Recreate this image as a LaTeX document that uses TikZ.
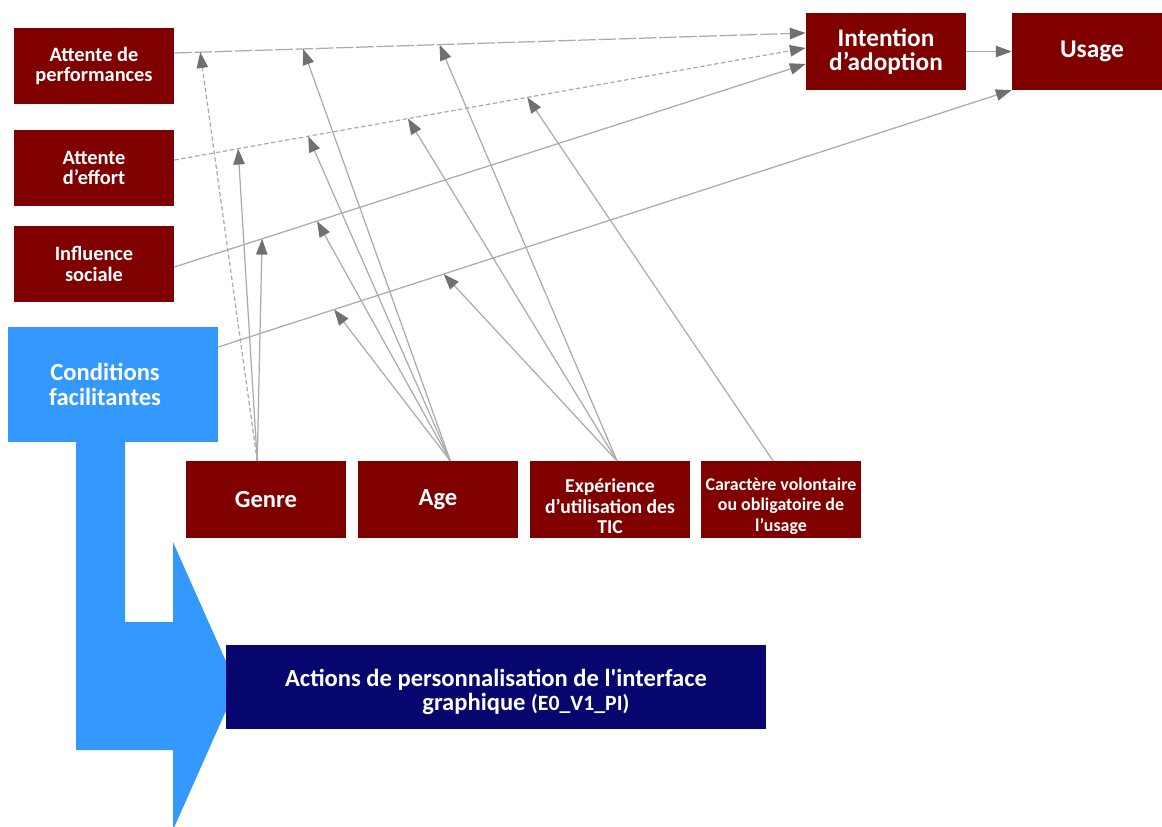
\documentclass[tikz,border=0pt]{standalone}
\usepackage{fontspec}
\setmainfont{Carlito}[Ligatures=TeXOff]
\usetikzlibrary{arrows.meta,calc}
\definecolor{boxred}{HTML}{800000}
\definecolor{condblue}{HTML}{3399FF}
\definecolor{actnavy}{HTML}{06066E}
\definecolor{linkgray}{HTML}{ABABAB}
\definecolor{tipgray}{HTML}{707070}

\begin{document}
\begin{tikzpicture}[x=0.02cm,y=-0.02cm,
  redbox/.style={fill=boxred,text=white,align=center,inner sep=1pt,
    minimum width=3.2cm,minimum height=1.53cm},
  link/.style={draw=linkgray,line width=0.7pt,
    -{Triangle[length=9pt,width=6.5pt,color=tipgray]}},
  longdash/.style={dash pattern=on 10pt off 1.5pt},
  shortdash/.style={dash pattern=on 2.5pt off 1.5pt}]
\useasboundingbox (0,0) rectangle (1162,826);

% blue arrow first, the navy box covers its tip
\fill[condblue] (76,442) -- (125,442) -- (125,622) -- (173,622) -- (173,542)
  -- (237,686) -- (173,830) -- (173,750) -- (76,750) -- cycle;

\node[redbox,font=\bfseries\fontsize{11.6}{11.5}\selectfont] (perf) at (94,66) {Attente de\\performances};
\node[redbox,font=\bfseries\fontsize{11.6}{11.5}\selectfont] (effort) at (94,168) {Attente\\d’effort};
\node[redbox,font=\bfseries\fontsize{11.6}{11.5}\selectfont] (social) at (94,264) {Influence\\sociale};
\node[redbox,fill=condblue,minimum width=4.2cm,minimum height=2.3cm,
  font=\bfseries\fontsize{14}{14}\selectfont] (cond) at (113,384.5)
  {\hspace*{-9pt}Conditions\\\hspace*{-9pt}facilitantes};
\node[redbox,font=\bfseries\fontsize{14.4}{13.6}\selectfont] (intent) at (886,51.5) {Intention\\d’adoption};
\node[redbox,font=\bfseries\fontsize{14.5}{14}\selectfont] (usage) at (1092,51.5) {Usage};
\node[redbox,font=\bfseries\fontsize{14}{14}\selectfont] (genre) at (266,499.5) {Genre};
\node[redbox,font=\bfseries\fontsize{14}{14}\selectfont] (age) at (438,499.5) {Age};
\node[redbox,font=\bfseries\fontsize{11.2}{11.6}\selectfont] (exp) at (610,499.5)
  {\rule{0pt}{15.5pt}Expérience\\d’utilisation des\\TIC};
\node[redbox,font=\bfseries\fontsize{10.2}{11.6}\selectfont] (vol) at (781,499.5)
  {\rule{0pt}{14.7pt}Caractère volontaire\\ou obligatoire de\\l’usage};
\node[redbox,fill=actnavy,minimum width=10.8cm,minimum height=1.68cm,
  font=\bfseries\fontsize{14}{14}\selectfont] (action) at (496,687)
  {\rule{0pt}{15.5pt}Actions de personnalisation de l'interface\\
   \hspace*{34pt}graphique {\fontsize{12.4}{14}\selectfont (E0\_V1\_PI)}};

\coordinate (sP) at ($(perf.east)+(0,-13)$);
\coordinate (eP) at ($(intent.west)+(0,-18.5)$);
\coordinate (sE) at ($(effort.east)+(0,-8)$);
\coordinate (eE) at ($(intent.west)+(0,-3.5)$);
\coordinate (sS) at ($(social.east)+(0,3)$);
\coordinate (eS) at ($(intent.west)+(0,12.5)$);
\coordinate (sC) at ($(cond.east)+(0,-37.5)$);
\coordinate (eC) at (usage.south west);

\draw[link,longdash] (sP) -- (eP);
\draw[link,shortdash] (sE) -- (eE);
\draw[link] (sS) -- (eS);
\draw[link] (sC) -- (eC);
\draw[link] (intent) -- (usage);

\draw[link,shortdash] ([xshift=-5pt]genre.north) -- ($(sP)!0.041!(eP)$);
\draw[link] ([xshift=-5pt]genre.north) -- ($(sE)!0.101!(eE)$);
\draw[link] ([xshift=-5pt]genre.north) -- ($(sS)!0.139!(eS)$);

\draw[link] ([xshift=7pt]age.north) -- ($(sP)!0.204!(eP)$);
\draw[link] ([xshift=7pt]age.north) -- ($(sE)!0.212!(eE)$);
\draw[link] ([xshift=7pt]age.north) -- ($(sS)!0.226!(eS)$);
\draw[link] ([xshift=7pt]age.north) -- ($(sC)!0.146!(eC)$);

\draw[link] ([xshift=4pt]exp.north) -- ($(sP)!0.42!(eP)$);
\draw[link] ([xshift=4pt]exp.north) -- ($(sE)!0.37!(eE)$);
\draw[link] ([xshift=4pt]exp.north) -- ($(sC)!0.284!(eC)$);

\draw[link] ([xshift=-4.5pt]vol.north) -- ($(sE)!0.559!(eE)$);
\end{tikzpicture}
\end{document}
